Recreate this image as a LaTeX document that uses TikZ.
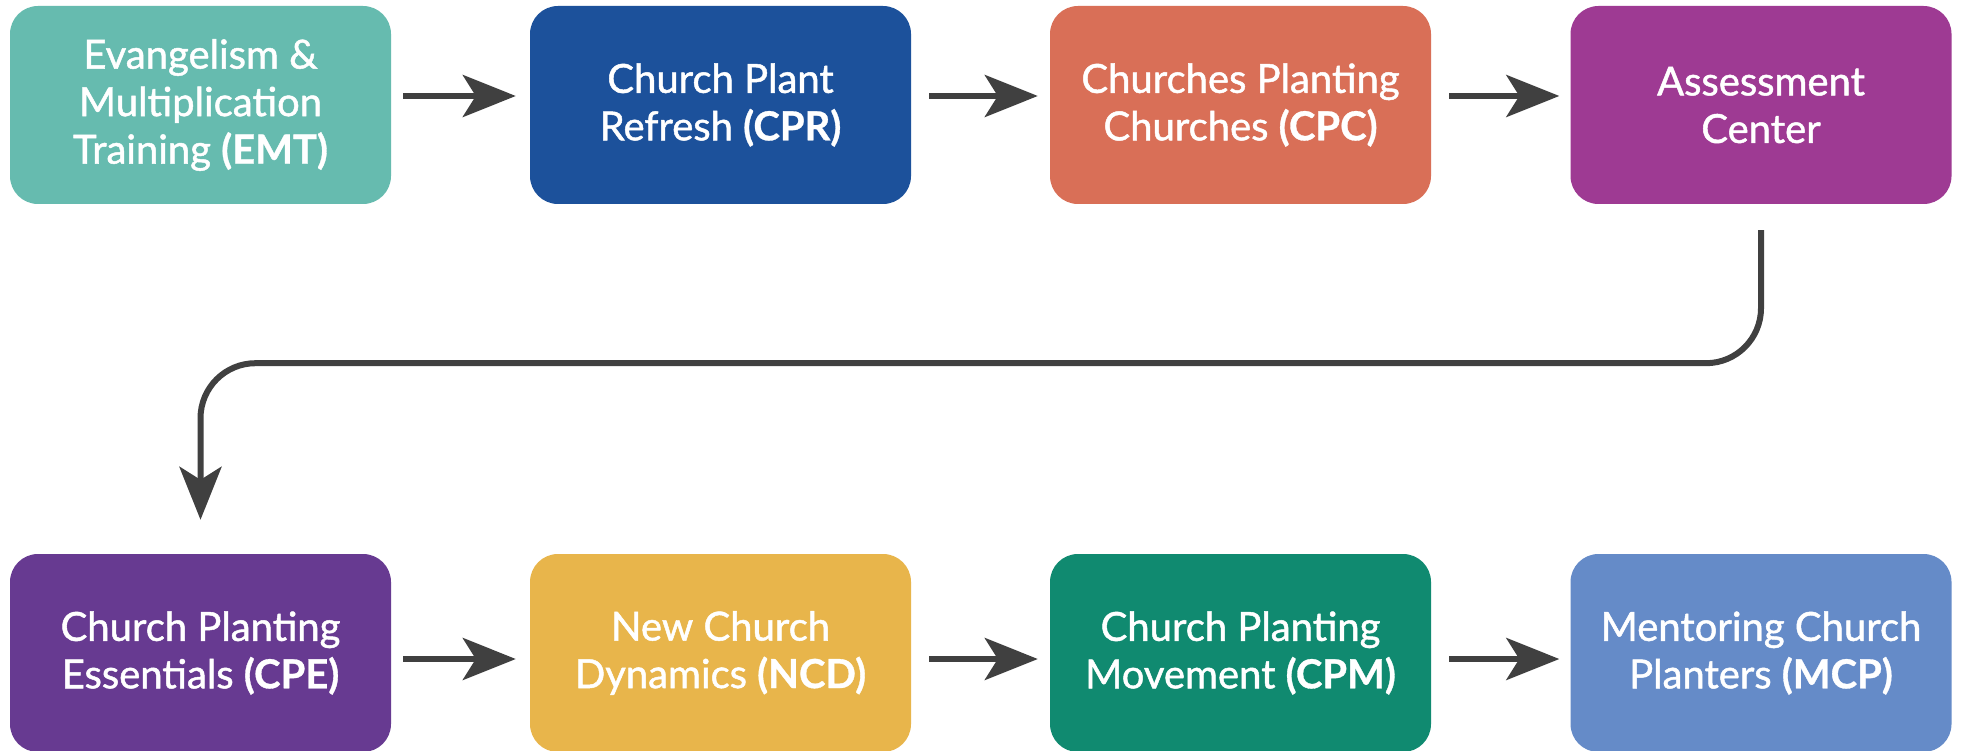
\documentclass[tikz,border=0pt]{standalone}
\usepackage{fontspec}
\setmainfont{Lato}[UprightFeatures={FakeBold=1.2}, BoldFeatures={FakeBold=0.8}]
\usetikzlibrary{arrows.meta}
\definecolor{cEMT}{HTML}{66BBAF}
\definecolor{cCPR}{HTML}{1C519B}
\definecolor{cCPC}{HTML}{D96F57}
\definecolor{cAC}{HTML}{9E3A93}
\definecolor{cCPE}{HTML}{673A91}
\definecolor{cNCD}{HTML}{E8B54B}
\definecolor{cCPM}{HTML}{108A70}
\definecolor{cMCP}{HTML}{658BC8}
\definecolor{cArrow}{HTML}{404040}
\begin{document}
\begin{tikzpicture}[x=1pt,y=-1pt,
  box/.style={rectangle, rounded corners=28pt, minimum width=381pt, minimum height=198pt,
    inner sep=0pt, text=white, align=center, font=\fontsize{40}{47.5}\selectfont},
  conn/.style={draw=cArrow, line width=6pt, -{Stealth[length=53pt,width=42pt,inset=13pt]}}]
\path[use as bounding box, fill=white] (0,0) rectangle (1961,751);
\node[box, fill=cEMT] (emt) at (200.5,105) {Evangelism \&\\Multiplication\\Training \textbf{(EMT)}};
\node[box, fill=cCPR] (cpr) at (720.5,105) {Church Plant\\Refresh \textbf{(CPR)}};
\node[box, fill=cCPC] (cpc) at (1240.5,105) {Churches Planting\\Churches \textbf{(CPC)}};
\node[box, fill=cAC] (ac) at (1761,105) {Assessment\\Center};
\node[box, fill=cCPE] (cpe) at (200.5,653) {Church Planting\\Essentials \textbf{(CPE)}};
\node[box, fill=cNCD] (ncd) at (720.5,653) {New Church\\Dynamics \textbf{(NCD)}};
\node[box, fill=cCPM] (cpm) at (1240.5,653) {Church Planting\\Movement \textbf{(CPM)}};
\node[box, fill=cMCP] (mcp) at (1761,653) {Mentoring Church\\Planters \textbf{(MCP)}};
\draw[conn] ([shift={(12pt,9pt)}]emt.east) -- ([shift={(-14pt,9pt)}]cpr.west);
\draw[conn] ([shift={(18pt,9pt)}]cpr.east) -- ([shift={(-12pt,9pt)}]cpc.west);
\draw[conn] ([shift={(18pt,9pt)}]cpc.east) -- ([shift={(-11pt,9pt)}]ac.west);
\draw[conn] ([shift={(12pt,-6pt)}]cpe.east) -- ([shift={(-14pt,-6pt)}]ncd.west);
\draw[conn] ([shift={(18pt,-6pt)}]ncd.east) -- ([shift={(-12pt,-6pt)}]cpm.west);
\draw[conn] ([shift={(18pt,-6pt)}]cpm.east) -- ([shift={(-11pt,-6pt)}]mcp.west);
\draw[conn, rounded corners=55pt] ([yshift=-26pt]ac.south) -- ++(0,133) -| ([yshift=34pt]cpe.north);
\end{tikzpicture}
\end{document}
